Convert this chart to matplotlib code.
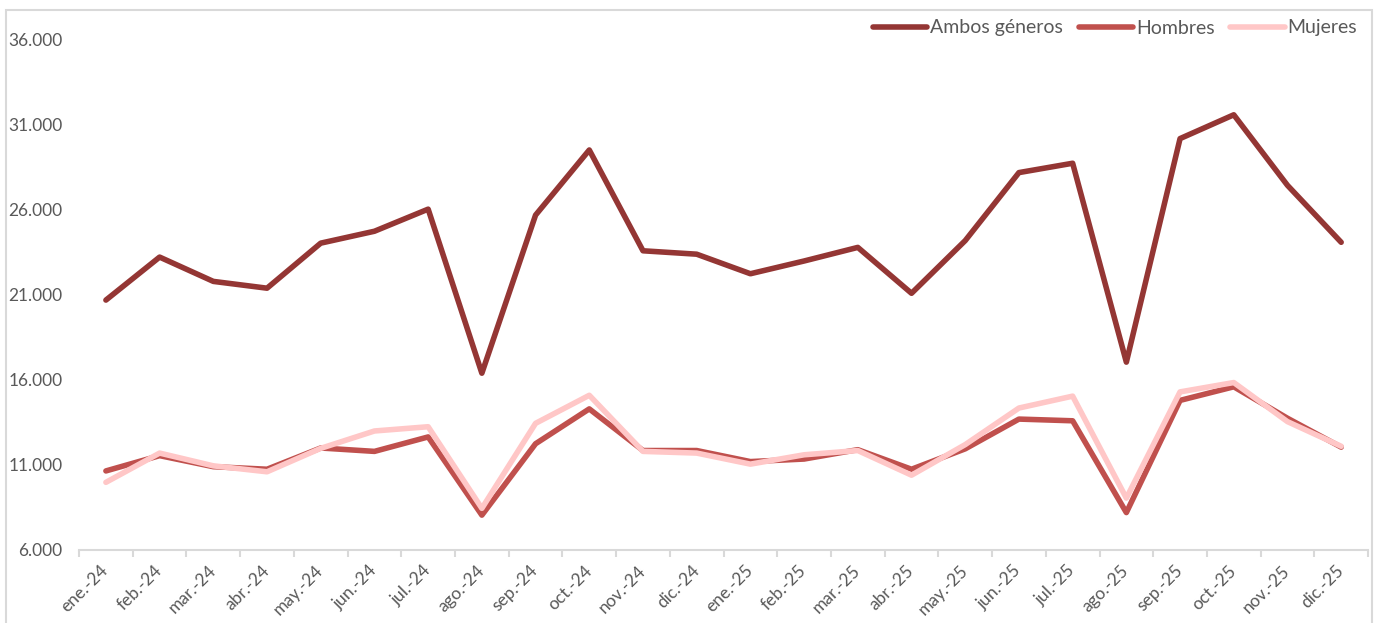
import matplotlib.pyplot as plt
import matplotlib.ticker as mticker
from matplotlib.patches import Rectangle
import numpy as np

# ---- DATA ----
months = ["ene.-24", "feb.-24", "mar.-24", "abr.-24", "may.-24", "jun.-24",
          "jul.-24", "ago.-24", "sep.-24", "oct.-24", "nov.-24", "dic.-24",
          "ene.-25", "feb.-25", "mar.-25", "abr.-25", "may.-25", "jun.-25",
          "jul.-25", "ago.-25", "sep.-25", "oct.-25", "nov.-25", "dic.-25"]
ambos = [20700, 23230, 21800, 21400, 24050, 24750, 26050, 16400, 25700, 29530,
         23600, 23400, 22250, 23000, 23800, 21100, 24200, 28200, 28750, 17050,
         30200, 31600, 27450, 24100]
hombres = [10650, 11550, 10900, 10750, 12000, 11800, 12650, 8050, 12250, 14300,
           11850, 11850, 11200, 11350, 11900, 10750, 11950, 13700, 13600, 8200,
           14800, 15600, 13750, 12050]
mujeres = [9980, 11700, 10950, 10600, 11980, 13000, 13250, 8450, 13450, 15100,
           11800, 11700, 11050, 11600, 11850, 10400, 12200, 14350, 15050, 9050,
           15300, 15850, 13550, 12100]

# ---- STYLE ----
plt.rcParams.update({
    "font.family": ["Lato", "DejaVu Sans"],
    "figure.facecolor": "white",
    "axes.facecolor": "white",
})
TXT = "#595959"
GRID = "#D9D9D9"

fig = plt.figure(figsize=(13.82, 6.23), dpi=100)
ax = fig.add_axes([0.0572, 0.1172, 0.9327, 0.8186])

# outer chart frame
fig.patches.append(Rectangle((6 / 1382, -0.05), 1366 / 1382, 0.05 + 613 / 623,
                             transform=fig.transFigure, fill=False,
                             edgecolor=GRID, linewidth=1.5, zorder=0))

x = np.arange(len(months))
kw = dict(linewidth=4.0, solid_capstyle="round", solid_joinstyle="round")
ax.plot(x, ambos, color="#943634", label="Ambos géneros", **kw)
ax.plot(x, hombres, color="#C0504D", label="Hombres", **kw)
ax.plot(x, mujeres, color="#FFC7C7", label="Mujeres", **kw)

ax.set_xlim(-0.5, len(months) - 0.5)
ax.set_ylim(6000, 36000)
ax.set_yticks(np.arange(6000, 36001, 5000))
ax.yaxis.set_major_formatter(mticker.FuncFormatter(lambda v, p: f"{v:,.0f}".replace(",", ".")))

ax.set_xticks(x)
ax.set_xticklabels(months, rotation=45, ha="right", va="center", rotation_mode="anchor")
ax.set_xticks(np.arange(-0.5, len(months), 1), minor=True)
ax.tick_params(axis="x", which="major", length=0, pad=13, labelsize=12.5, labelcolor=TXT)
ax.tick_params(axis="x", which="minor", length=5, width=1.5, color=GRID)
ax.tick_params(axis="y", length=0, pad=12, labelsize=12.5, labelcolor=TXT)

for s in ["top", "right", "left"]:
    ax.spines[s].set_visible(False)
ax.spines["bottom"].set_color(GRID)
ax.spines["bottom"].set_linewidth(1.5)

leg = fig.legend(loc="center right", bbox_to_anchor=(1365 / 1382, 1 - 28 / 623),
                 ncol=3, frameon=False, fontsize=14, handlelength=2.8,
                 handletextpad=0.15, columnspacing=0.8, borderaxespad=0)
for t in leg.get_texts():
    t.set_color(TXT)

plt.savefig("out.png", dpi=100)
plt.close()
